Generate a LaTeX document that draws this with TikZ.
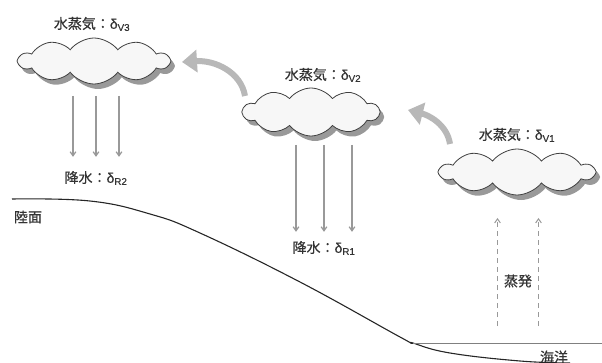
\documentclass[tikz,border=0pt]{standalone}
\usepackage{fontspec}
\setmainfont{Noto Sans CJK JP}[FakeBold=0.6]
\newfontfamily\latin{Liberation Sans}[FakeBold=0.4]
\usetikzlibrary{shapes.symbols,shadows,arrows.meta}

% delta value with its subscript
\newcommand\dval[1]{{\latin δ\textsubscript{#1}}}

\begin{document}
\begin{tikzpicture}[x=1pt,y=-1pt,
	cloudbox/.style={cloud, cloud puffs=10, cloud puff arc=105, aspect=3, draw=black!75, line width=0.8pt,
		fill=black!3, inner sep=0pt,
		drop shadow={shadow xshift=4pt, shadow yshift=-5pt, fill=black!40, opacity=1}},
	lbl/.style={text=black!80, font=\fontsize{14}{16}\selectfont, inner sep=0pt},
	rain/.style={draw=black!40, line width=1.2pt, -{Straight Barb[angle=70:5pt]}},
	evap/.style={draw=black!40, line width=1pt, dash pattern=on 5pt off 4pt, -{Straight Barb[angle=70:5pt]}},
	flow/.style={draw=black!28, line width=6pt, -{Triangle[width=22pt,length=15pt]}},
	land/.style={draw=black!85, line width=1.1pt},
	sea/.style={draw=black!50, line width=0.9pt}]
	\useasboundingbox (0,0) rectangle (602,363);

	% clouds
	\node[cloudbox, minimum width=150pt, minimum height=46pt] (cloudC) at (94,61) {};
	\node[cloudbox, minimum width=136pt, minimum height=48pt] (cloudB) at (311,112) {};
	\node[cloudbox, minimum width=154pt, minimum height=46pt] (cloudA) at (517,172) {};

	% labels
	\node[lbl] (vapC) at (92,24) {水蒸気：\dval{V3}};
	\node[lbl] (vapB) at (323,75) {水蒸気：\dval{V2}};
	\node[lbl] (vapA) at (517,135) {水蒸気：\dval{V1}};
	\node[lbl] (rainC) at (96,178) {降水：\dval{R2}};
	\node[lbl] (rainB) at (324,248) {降水：\dval{R1}};
	\node[lbl] (evapA) at (518,281) {蒸発};
	\node[lbl] (landL) at (28,217) {陸面};
	\node[lbl] (seaL) at (554,357) {海洋};

	% precipitation and evaporation
	\foreach \dx in {-23,0,23}
		\draw[rain] (rainC.north) ++(\dx,-75) -- ++(0,61);
	\foreach \dx in {-28,0,28}
		\draw[rain] (rainB.north) ++(\dx,-96) -- ++(0,87);
	\foreach \dx in {-20.5,20.5}
		\draw[evap] (evapA.center) ++(\dx,45) -- ++(0,-108);

	% vapour transport
	\coordinate (flowB) at (245,96);
	\coordinate (flowC) at (182,62);
	\coordinate (flowA) at (450,144);
	\coordinate (flowAB) at (408,110);
	\draw[flow] (flowB) .. controls +(-4,-24) and +(33,-2) .. (flowC);
	\draw[flow] (flowA) .. controls +(-3,-20) and +(20,5) .. (flowAB);

	% ground
	\draw[land] plot[smooth, tension=0.7] coordinates {(12,199) (90,201) (150,214) (200,233)
		(300,282) (400,337) (413,343) (450,353) (520,361) (570,363)};
	\draw[sea] (413,343) -- (602,343);
\end{tikzpicture}
\end{document}
